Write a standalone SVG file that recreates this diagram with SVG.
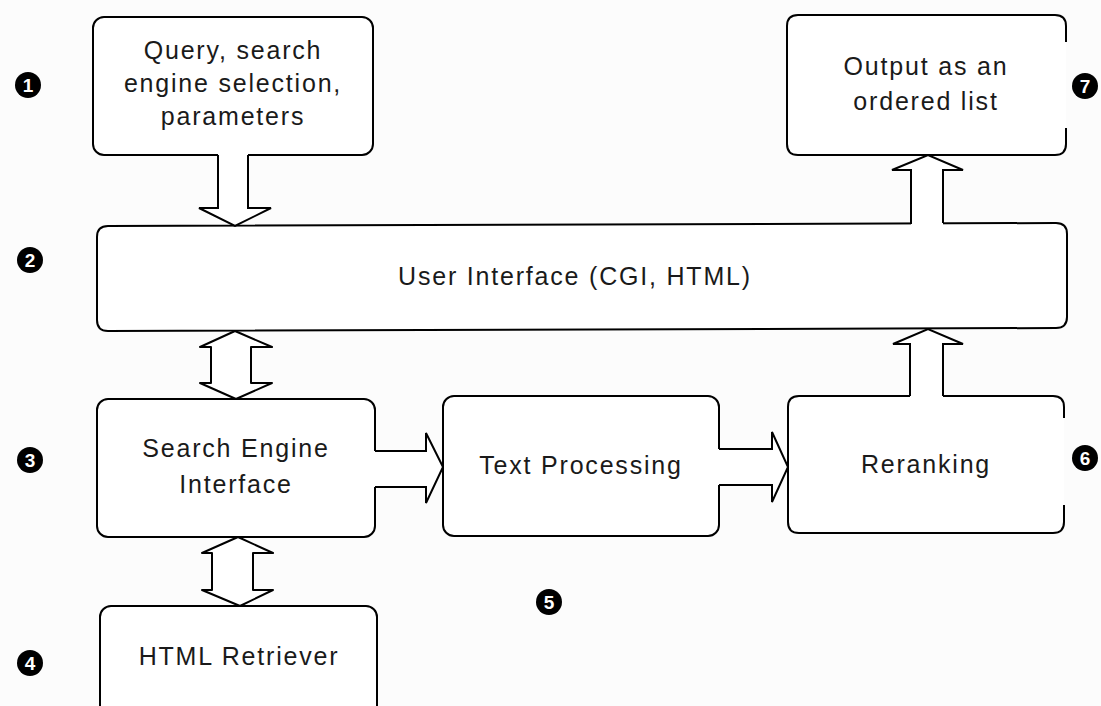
<svg xmlns="http://www.w3.org/2000/svg" width="1101" height="706" viewBox="0 0 1101 706">
<style>
.box{fill:#ffffff;stroke:#000;stroke-width:2;stroke-linejoin:round}
.edge{fill:none;stroke:#000;stroke-width:2;stroke-linejoin:miter}
.af{fill:#ffffff;stroke:none}
.lbl{font-family:"Liberation Sans",Arial,sans-serif;font-size:25px;letter-spacing:1.8px;fill:#1a1a1a;text-anchor:middle}
.num circle{fill:#000}
.num text{font-family:"Liberation Sans",Arial,sans-serif;font-size:19px;font-weight:bold;fill:#fff;text-anchor:middle}
</style>
<rect width="1101" height="706" fill="#fcfcfc"/>

<g id="node-query">
<rect class="box" x="93" y="17" width="280" height="138" rx="11"/>
<text class="lbl" x="233" y="59">Query, search</text>
<text class="lbl" x="233" y="92">engine selection,</text>
<text class="lbl" x="233" y="125">parameters</text>
</g>

<g id="node-output">
<path class="af" d="M798,15 H1055 Q1066,15 1066,26 V144 Q1066,155 1055,155 H798 Q787,155 787,144 V26 Q787,15 798,15 Z"/>
<path class="edge" d="M1066,128 V144 Q1066,155 1055,155 H798 Q787,155 787,144 V26 Q787,15 798,15 H1055 Q1066,15 1066,26 V42"/>
<text class="lbl" x="926" y="75">Output as an</text>
<text class="lbl" x="926" y="110">ordered list</text>
</g>

<g id="node-ui">
<path class="box" d="M108,226 L1056,223 Q1067,223 1067,234 V317 Q1067,328 1056,328 L108,331 Q97,331 97,320 V237 Q97,226 108,226 Z"/>
<text class="lbl" x="575" y="285">User Interface (CGI, HTML)</text>
</g>

<g id="node-sei">
<rect class="box" x="97" y="399" width="278" height="138" rx="11"/>
<text class="lbl" x="236" y="457">Search Engine</text>
<text class="lbl" x="236" y="493">Interface</text>
</g>

<g id="node-tp">
<rect class="box" x="443" y="396" width="276" height="140" rx="11"/>
<text class="lbl" x="581" y="474">Text Processing</text>
</g>

<g id="node-rerank">
<path class="af" d="M799,396 H1053 Q1064,396 1064,407 V522 Q1064,533 1053,533 H799 Q788,533 788,522 V407 Q788,396 799,396 Z"/>
<path class="edge" d="M1064,505 V522 Q1064,533 1053,533 H799 Q788,533 788,522 V407 Q788,396 799,396 H1053 Q1064,396 1064,407 V418"/>
<text class="lbl" x="926" y="473">Reranking</text>
</g>

<g id="node-html">
<rect class="box" x="100" y="606" width="277" height="110" rx="11"/>
<text class="lbl" x="239" y="665">HTML Retriever</text>
</g>

<g id="connectors">
<path class="af" d="M218,152 V208 H199 L235,226 L271,208 H248 V152 Z"/>
<path class="edge" d="M218,155 V208 H199 L235,226 L271,208 H248 V155"/>
<path class="af" d="M911,226 V170 H892 L928,155 L963,170 H943 V226 Z"/>
<path class="edge" d="M911,224 V170 H892 L928,155 L963,170 H943 V223"/>
<path class="box" d="M235,331 L272,347 H251 V383 H272 L236,399 L200,383 H211 V347 H200 Z"/>
<path class="box" d="M238,537 L273,553 H253 V590 H273 L240,606 L202,590 H212 V553 H202 Z"/>
<path class="af" d="M372,451 H426 V433 L443,467 L426,503 V487 H372 Z"/>
<path class="edge" d="M375,451 H426 V433 L443,467 L426,503 V487 H375"/>
<path class="af" d="M716,449 H772 V432 L788,467 L772,502 V485 H716 Z"/>
<path class="edge" d="M719,449 H772 V432 L788,467 L772,502 V485 H719"/>
<path class="af" d="M910,399 V344 H893 L928,329 L963,344 H943 V399 Z"/>
<path class="edge" d="M910,396 V344 H893 L928,329 L963,344 H943 V396"/>
</g>

<g id="markers" class="num">
<g id="m1"><circle cx="28" cy="85" r="13"/><text x="28" y="92">1</text></g>
<g id="m2"><circle cx="30" cy="260" r="13"/><text x="30" y="267">2</text></g>
<g id="m3"><circle cx="30" cy="460" r="13"/><text x="30" y="467">3</text></g>
<g id="m4"><circle cx="30" cy="663" r="13"/><text x="30" y="670">4</text></g>
<g id="m5"><circle cx="549" cy="602" r="13"/><text x="549" y="609">5</text></g>
<g id="m6"><circle cx="1085" cy="458" r="13"/><text x="1085" y="465">6</text></g>
<g id="m7"><circle cx="1085" cy="86" r="13"/><text x="1085" y="93">7</text></g>
</g>
</svg>
